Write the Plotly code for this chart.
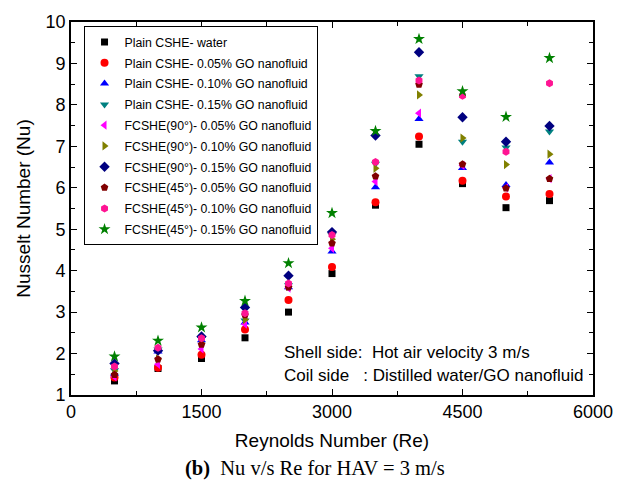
import plotly.graph_objects as go

re_values = [500, 1000, 1500, 2000, 2500, 3000, 3500, 4000, 4500, 5000, 5500]

series_names = [
    "Plain CSHE- water",
    "Plain CSHE- 0.05% GO nanofluid",
    "Plain CSHE- 0.10% GO nanofluid",
    "Plain CSHE- 0.15% GO nanofluid",
    "FCSHE(90°)- 0.05% GO nanofluid",
    "FCSHE(90°)- 0.10% GO nanofluid",
    "FCSHE(90°)- 0.15% GO nanofluid",
    "FCSHE(45°)- 0.05% GO nanofluid",
    "FCSHE(45°)- 0.10% GO nanofluid",
    "FCSHE(45°)- 0.15% GO nanofluid",
]

nu_plain_water = [1.34, 1.64, 1.88, 2.38, 3.00, 3.93, 5.58, 7.05, 6.10, 5.52, 5.69]
nu_plain_005 = [1.42, 1.66, 1.97, 2.58, 3.29, 4.09, 5.65, 7.24, 6.17, 5.79, 5.85]
nu_plain_010 = [1.52, 2.05, 2.32, 2.75, 3.60, 4.46, 6.01, 7.66, 6.48, 6.07, 6.61]
nu_plain_015 = [1.60, 2.10, 2.36, 2.80, 3.65, 4.86, 6.58, 8.69, 7.11, 6.97, 7.36]
nu_f90_005 = [1.44, 1.74, 2.11, 2.71, 3.58, 4.54, 6.15, 7.80, 6.54, 6.00, 6.22]
nu_f90_010 = [1.58, 1.87, 2.25, 2.82, 3.62, 4.76, 6.47, 8.24, 7.20, 6.56, 6.81]
nu_f90_015 = [1.76, 2.07, 2.41, 3.11, 3.88, 4.93, 7.26, 9.27, 7.70, 7.11, 7.49]
nu_f45_005 = [1.49, 1.86, 2.22, 2.93, 3.60, 4.66, 6.28, 8.49, 6.57, 5.99, 6.22]
nu_f45_010 = [1.69, 2.14, 2.37, 2.97, 3.69, 4.86, 6.62, 8.59, 8.22, 6.87, 8.52]
nu_f45_015 = [1.93, 2.31, 2.63, 3.27, 4.18, 5.39, 7.37, 9.59, 8.33, 7.71, 9.13]

series_values = [nu_plain_water, nu_plain_005, nu_plain_010, nu_plain_015,
                 nu_f90_005, nu_f90_010, nu_f90_015,
                 nu_f45_005, nu_f45_010, nu_f45_015]

symbols = ["square", "circle", "triangle-up", "triangle-down", "triangle-left",
           "triangle-right", "diamond", "pentagon", "hexagon", "star"]
colors = ["#000000", "#ff0000", "#0000ff", "#008080", "#ff00ff",
          "#808000", "#000080", "#800000", "#ff1493", "#008000"]
sizes = [7, 8, 8, 8, 8, 8, 8, 8, 8, 9]

x_ticks = [0, 1500, 3000, 4500, 6000]
y_ticks = [1, 2, 3, 4, 5, 6, 7, 8, 9, 10]

SANS = "Liberation Sans, Arial"

fig = go.Figure()
for i, (name, vals) in enumerate(zip(series_names, series_values)):
    fig.add_trace(go.Scatter(
        x=re_values, y=vals, mode="markers", name=name,
        legendgroup=f"g{i}",
        marker=dict(symbol=symbols[i], color=colors[i], size=sizes[i], line=dict(width=0)),
    ))

axis_common = dict(
    showline=True, linecolor="black", linewidth=1.6, mirror="ticks",
    ticks="inside", ticklen=6, tickwidth=1.3, tickcolor="black",
    showgrid=False, zeroline=False,
    tickfont=dict(family=SANS, size=18, color="black"),
)

fig.update_layout(
    width=625, height=486,
    margin=dict(l=71, r=31, t=17.5, b=91),
    paper_bgcolor="white", plot_bgcolor="white",
    showlegend=True,
    legend=dict(
        x=0.024, y=0.988, xanchor="left", yanchor="top",
        bordercolor="black", borderwidth=1, bgcolor="white",
        font=dict(family=SANS, size=12.3, color="black"),
        tracegroupgap=1.8, itemwidth=30,
    ),
    xaxis=dict(
        range=[0, 6000], tickvals=x_ticks, ticktext=[str(v) for v in x_ticks],
        minor=dict(dtick=750, ticks="inside", ticklen=4, tickcolor="black", tickwidth=1),
        title=dict(text="Reynolds Number (Re)", standoff=12,
                   font=dict(family=SANS, size=19, color="black")),
        **axis_common,
    ),
    yaxis=dict(
        range=[1, 10], tickvals=y_ticks, ticktext=[str(v) for v in y_ticks],
        minor=dict(dtick=0.5, ticks="inside", ticklen=4, tickcolor="black", tickwidth=1),
        title=dict(text="Nusselt Number (Nu)", standoff=10,
                   font=dict(family=SANS, size=19, color="black")),
        **axis_common,
    ),
    annotations=[
        dict(text="Shell side:&nbsp;&nbsp;Hot air velocity 3 m/s", xref="paper", yref="paper",
             x=0.404, y=0.114, xanchor="left", yanchor="middle", showarrow=False,
             font=dict(family=SANS, size=17, color="black")),
        dict(text="Coil side&nbsp;&nbsp;&nbsp;: Distilled water/GO nanofluid", xref="paper", yref="paper",
             x=0.404, y=0.053, xanchor="left", yanchor="middle", showarrow=False,
             font=dict(family=SANS, size=17, color="black")),
        dict(text="<b>(b)</b>&nbsp;&nbsp;Nu v/s Re for HAV = 3 m/s", xref="paper", yref="paper",
             x=0.468, y=-0.196, xanchor="center", yanchor="middle", showarrow=False,
             font=dict(family="Liberation Serif, Times New Roman", size=20.5, color="black")),
    ],
)

fig.write_html("out.html")
